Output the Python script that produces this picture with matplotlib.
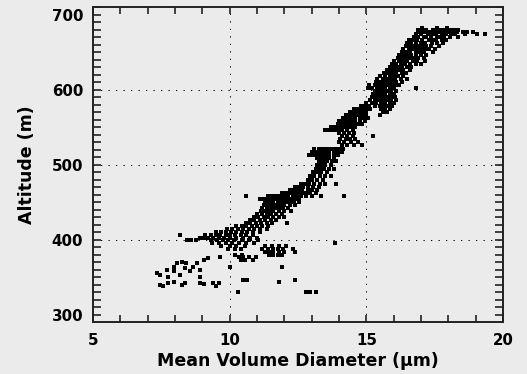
import numpy as np
import matplotlib
matplotlib.use("Agg")
import matplotlib.pyplot as plt
from matplotlib.ticker import MultipleLocator

# Altitude (m) rows with the mean volume diameters (um).
upper_band = [
    (683, [17.05, 17.6, 17.95]),
    (680, [16.9, 17.2, 17.45, 17.7, 17.85, 18.05, 18.2, 18.35]),
    (677, [16.95, 17.1, 17.3, 17.5, 17.65, 17.8, 18.0, 18.15, 18.3, 18.55, 18.7, 18.9]),
    (674, [16.8, 17.0, 17.25, 17.4, 17.55, 17.75, 17.9, 18.1, 18.25, 18.6, 19.05, 19.35]),
    (670, [16.75, 16.9, 17.1, 17.2, 17.35, 17.6, 17.7, 17.85, 18.05, 18.35]),
    (666, [16.55, 16.7, 16.85, 17.05, 17.3, 17.45, 17.55, 17.75, 17.9]),
    (662, [16.5, 16.65, 16.8, 17.0, 17.15, 17.4, 17.6, 17.8]),
    (658, [16.45, 16.6, 16.75, 16.9, 17.05, 17.2, 17.35, 17.65]),
    (654, [16.35, 16.55, 16.7, 16.85, 17.0, 17.15, 17.3, 17.5]),
    (650, [16.3, 16.45, 16.6, 16.8, 16.95, 17.1, 17.45]),
    (646, [16.2, 16.35, 16.5, 16.65, 16.8, 17.0, 17.2]),
    (642, [16.15, 16.3, 16.45, 16.6, 16.75, 16.9, 17.1]),
    (638, [16.0, 16.2, 16.35, 16.5, 16.7, 16.85, 17.15]),
    (634, [15.95, 16.1, 16.25, 16.4, 16.6, 16.8, 17.0]),
    (630, [15.85, 16.0, 16.15, 16.3, 16.5, 16.65]),
    (626, [15.75, 15.9, 16.05, 16.2, 16.35, 16.6]),
    (622, [15.65, 15.8, 15.95, 16.1, 16.3, 16.45]),
    (618, [15.5, 15.7, 15.85, 16.0, 16.15, 16.35]),
    (614, [15.4, 15.6, 15.75, 15.9, 16.05, 16.25, 16.5]),
    (610, [15.35, 15.5, 15.65, 15.8, 15.95, 16.1, 16.3]),
    (606, [15.1, 15.3, 15.45, 15.6, 15.75, 15.9, 16.05, 16.2]),
    (602, [15.05, 15.2, 15.4, 15.55, 15.7, 15.85, 16.0, 16.8]),
    (598, [15.3, 15.45, 15.6, 15.75, 15.9, 16.1]),
    (594, [15.25, 15.4, 15.55, 15.7, 15.85, 16.0]),
    (590, [15.2, 15.35, 15.5, 15.65, 15.8, 15.95, 16.05]),
    (586, [15.15, 15.3, 15.45, 15.6, 15.75, 15.9, 16.1]),
    (582, [15.0, 15.2, 15.35, 15.55, 15.7, 15.85, 16.0]),
    (578, [14.8, 14.95, 15.1, 15.3, 15.5, 15.65, 15.8, 15.95]),
]

middle_band = [
    (574, [14.55, 14.7, 14.85, 15.0, 15.15, 15.55, 15.7, 15.85]),
    (570, [14.4, 14.55, 14.7, 14.85, 15.0, 15.6, 15.75]),
    (566, [14.25, 14.4, 14.55, 14.7, 14.85, 15.0, 15.5]),
    (562, [14.15, 14.3, 14.45, 14.6, 14.75, 14.9, 15.05]),
    (558, [14.0, 14.15, 14.3, 14.45, 14.6, 14.75, 14.95]),
    (554, [13.95, 14.1, 14.25, 14.4, 14.55, 14.7, 14.85]),
    (550, [13.7, 13.85, 14.0, 14.15, 14.3, 14.45, 14.6]),
    (546, [13.5, 13.6, 13.7, 13.8, 13.95, 14.1, 14.3, 14.5]),
    (542, [14.0, 14.2, 14.35, 14.55]),
    (538, [14.1, 14.3, 14.5, 15.25]),
    (534, [14.05, 14.25, 14.4, 14.6]),
    (530, [14.0, 14.2, 14.45, 14.7]),
    (526, [14.1, 14.3, 14.55, 14.85]),
    (521, [13.1, 13.25, 13.4, 13.55, 13.7, 13.85, 14.0, 14.15]),
    (517, [13.0, 13.1, 13.2, 13.35, 13.5, 13.65, 13.8, 13.95, 14.1]),
    (513, [12.9, 13.05, 13.2, 13.35, 13.5, 13.65, 13.8, 13.95]),
    (509, [13.2, 13.35, 13.5, 13.65, 13.8]),
    (505, [13.25, 13.4, 13.55, 13.75, 13.9]),
    (500, [13.2, 13.35, 13.5, 13.7]),
    (495, [13.15, 13.3, 13.45, 13.65, 13.8]),
    (490, [13.05, 13.2, 13.35, 13.55]),
    (485, [12.95, 13.1, 13.3, 13.5, 13.7]),
    (480, [12.85, 13.0, 13.2, 13.4]),
    (475, [12.6, 12.75, 12.9, 13.1, 13.3, 13.5, 13.9]),
    (470, [12.4, 12.55, 12.7, 12.85, 13.05, 13.25]),
    (466, [12.2, 12.35, 12.5, 12.65, 12.85, 13.0, 13.2]),
    (462, [11.9, 12.05, 12.2, 12.35, 12.5, 12.65, 12.8, 12.95, 13.15]),
    (458, [10.6, 11.4, 11.55, 11.7, 11.85, 12.0, 12.15, 12.3, 12.45, 12.6, 12.8, 13.0, 13.35, 14.2]),
    (455, [11.1, 11.2, 11.3, 11.4, 11.5, 11.6, 11.7, 11.8, 11.95, 12.1, 12.25, 12.4, 12.55]),
    (451, [11.3, 11.45, 11.6, 11.75, 11.9, 12.05, 12.2, 12.35, 12.55]),
]

lower_band = [
    (447, [11.25, 11.4, 11.55, 11.7, 11.85, 12.0, 12.2, 12.4]),
    (443, [11.2, 11.35, 11.5, 11.65, 11.8, 11.95, 12.15]),
    (439, [11.15, 11.3, 11.45, 11.6, 11.8, 12.0, 12.25]),
    (435, [11.0, 11.2, 11.35, 11.5, 11.7, 11.9]),
    (431, [10.9, 11.05, 11.25, 11.4, 11.6, 11.8, 12.0]),
    (427, [10.75, 10.9, 11.1, 11.3, 11.5, 11.7]),
    (423, [10.6, 10.75, 10.95, 11.15, 11.35, 11.55, 12.1]),
    (419, [10.25, 10.45, 10.6, 10.8, 11.0, 11.2, 11.4]),
    (415, [9.9, 10.1, 10.3, 10.5, 10.7, 10.9, 11.1, 11.35]),
    (411, [9.5, 9.7, 9.85, 10.05, 10.25, 10.45, 10.65, 10.85, 11.1]),
    (407, [8.2, 9.1, 9.3, 9.5, 9.65, 9.85, 10.0, 10.2, 10.4, 10.6, 10.85]),
    (403, [8.9, 9.05, 9.2, 9.4, 9.6, 9.8, 10.0, 10.25, 10.5, 10.75, 11.0]),
    (400, [8.45, 8.6, 8.75, 9.3, 9.55, 9.75, 9.95, 10.15, 10.45, 10.7, 11.05]),
    (396, [9.35, 9.6, 9.85, 10.1, 10.35, 10.6, 10.9, 13.85]),
    (392, [9.7, 10.0, 10.25, 10.55, 11.3, 11.55, 11.8, 12.05]),
    (388, [9.95, 10.2, 10.4, 11.2, 11.4, 11.6, 11.75, 11.95, 12.3]),
    (384, [11.3, 11.45, 11.6, 11.8, 12.0, 12.4]),
    (380, [10.2, 10.45, 11.45, 11.6, 11.75, 11.9]),
    (377, [9.65, 10.35, 10.5, 10.7, 10.95]),
    (373, [10.4, 10.55, 10.85]),
]

low_scatter = [
    (376, [9.2]),
    (373, [9.05]),
    (371, [8.25]),
    (369, [8.06, 8.4, 8.8]),
    (364, [7.95, 8.65, 10.0, 11.9]),
    (362, [8.35]),
    (360, [7.7, 8.9]),
    (358, [7.95, 8.55]),
    (356, [7.33]),
    (353, [7.45, 8.2]),
    (351, [7.75, 8.9]),
    (347, [10.5, 10.65, 12.4]),
    (344, [7.95, 11.8]),
    (343, [8.9]),
    (342, [7.75, 8.35, 9.4, 9.6]),
    (341, [9.05]),
    (340, [7.45, 8.25]),
    (339, [7.57, 9.5]),
    (330, [10.3, 12.8, 12.95, 13.15]),
]

bg = "#ebebeb"

alt = []
mvd = []
for rows in (upper_band, middle_band, lower_band, low_scatter):
    for a, xs in rows:
        mvd.extend(xs)
        alt.extend([a] * len(xs))
mvd = np.array(mvd)
alt = np.array(alt)

fig = plt.figure(figsize=(5.27, 3.74), dpi=100, facecolor=bg)
ax = fig.add_axes([93 / 527, 1 - 322 / 374, 410 / 527, 315 / 374], facecolor=bg)

ax.scatter(mvd, alt, s=6.5, marker="s", color="black", linewidths=0)

ax.set_xlim(5, 20)
ax.set_ylim(290.6, 710.6)

# dotted grid only at the interior major ticks
for xv in (10, 15):
    ax.axvline(xv, color="black", lw=0.75, dashes=(1.2, 6), zorder=0)
for yv in (400, 500, 600):
    ax.axhline(yv, color="black", lw=0.75, dashes=(1.2, 6), zorder=0)

ax.xaxis.set_major_locator(MultipleLocator(5))
ax.xaxis.set_minor_locator(MultipleLocator(1))
ax.yaxis.set_major_locator(MultipleLocator(100))
ax.yaxis.set_minor_locator(MultipleLocator(10))
ax.tick_params(which="both", direction="in", top=True, right=True,
               color="#222222", width=1.2)
ax.tick_params(axis="x", which="both", length=5)
ax.tick_params(axis="y", which="both", length=6)
ax.tick_params(axis="x", which="major", pad=8)
ax.tick_params(axis="y", which="major", pad=7)

for lab in ax.get_xticklabels() + ax.get_yticklabels():
    lab.set_fontweight("bold")
    lab.set_fontsize(10.8)

for sp in ax.spines.values():
    sp.set_linewidth(1.4)
    sp.set_color("#222222")

ax.set_xlabel("Mean Volume Diameter (\u03bcm)", fontsize=12.5, fontweight="bold", labelpad=3)
ax.set_ylabel("Altitude (m)", fontsize=12.5, fontweight="bold", labelpad=11)

fig.savefig("out.png", dpi=100, facecolor=bg)
